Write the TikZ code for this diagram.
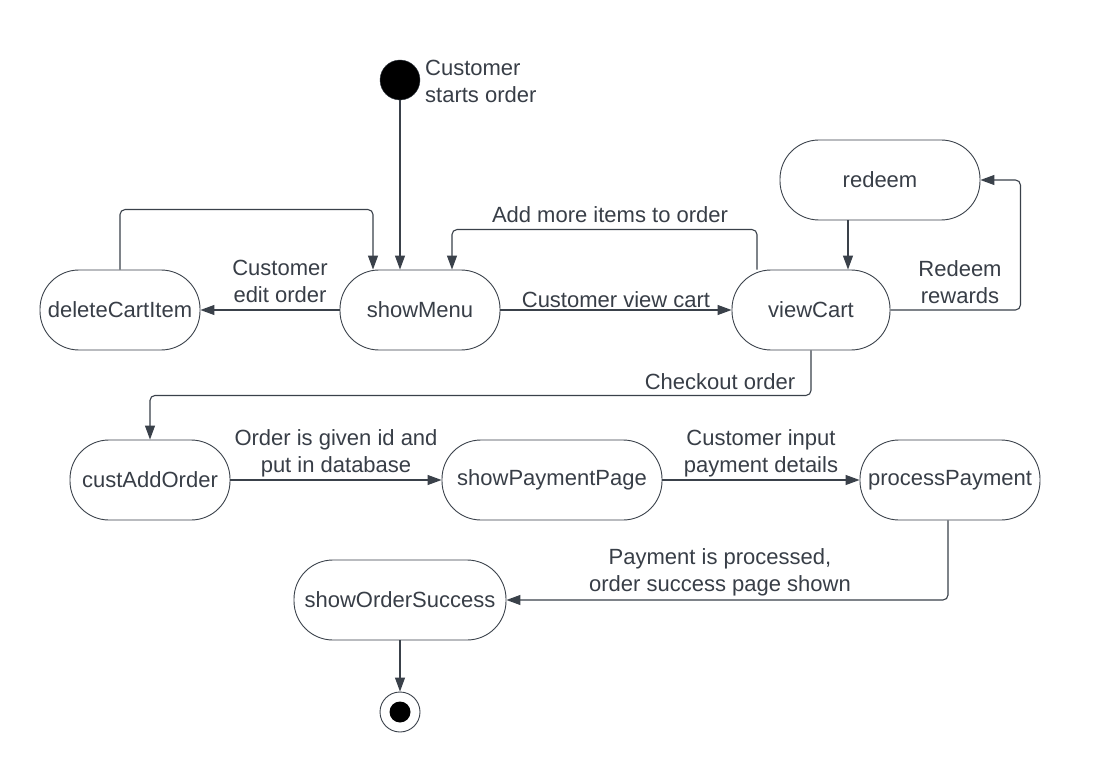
\documentclass[tikz,border=0pt]{standalone}
\usepackage{fontspec}
\setmainfont{Liberation Sans}
\usepackage{tikz}
\usetikzlibrary{arrows.meta, positioning, calc}
\definecolor{statestroke}{HTML}{3A414A}
\definecolor{statetext}{HTML}{383E47}
\tikzset{
  statebox/.style={
    draw=statestroke, line width=0.9pt, rectangle, rounded corners=39pt,
    minimum height=80pt, inner sep=2pt, text=statetext, fill=white,
    font=\fontsize{22}{27}\selectfont
  },
  flowarrow/.style={
    -{Triangle[length=14pt,width=10pt]}, line width=1.1pt,
    draw=statestroke, rounded corners=5pt
  },
  flowlabel/.style={
    font=\fontsize{22}{27}\selectfont, text=statetext, align=center, inner sep=2pt
  },
  startdot/.style={
    circle, fill=black, draw=statestroke, minimum size=40pt, inner sep=0pt
  },
  enddot/.style={
    circle, draw=statestroke, fill=white, line width=0.9pt, minimum size=40pt, inner sep=0pt
  },
}
\begin{document}
\begin{tikzpicture}[x=1pt, y=-1pt]
  \useasboundingbox[fill=white] (0,0) rectangle (1120,770);

  % ── States ──
  \node[startdot] (start) at (400,80) {};
  \node[flowlabel, anchor=west, align=left] (startlbl) at (423,81) {Customer\\starts order};
  \node[statebox, minimum width=160pt] (delcart) at (120,310) {deleteCartItem};
  \node[statebox, minimum width=160pt] (showmenu) at (420,310) {showMenu};
  \node[statebox, minimum width=158pt] (viewcart) at (811,310) {viewCart};
  \node[statebox, minimum width=200pt] (redeem) at (880,180) {redeem};
  \node[statebox, minimum width=160pt] (custadd) at (150,480) {custAddOrder};
  \node[statebox, minimum width=220pt] (showpay) at (552,480) {showPaymentPage};
  \node[statebox, minimum width=180pt] (procpay) at (950,480) {processPayment};
  \node[statebox, minimum width=212pt] (showsuccess) at (400,600) {showOrderSuccess};
  \node[enddot] (finish) at (400,712) {};
  \fill[black] (finish.center) circle (10.5pt);

  % ── Transitions ──
  \draw[flowarrow] (start) -- (start |- showmenu.north);
  \draw[flowarrow] (delcart.north) -- ++(0,-60) -| ([xshift=-47pt]showmenu.north);
  \draw[flowarrow] ([xshift=-54pt]viewcart.north) -- ++(0,-40) -| ([xshift=32pt]showmenu.north);
  \node[flowlabel] (morelbl) at (610,215) {Add more items to order};
  \draw[flowarrow] (showmenu) -- (delcart);
  \node[flowlabel] (editlbl) at (280,281) {Customer\\edit order};
  \draw[flowarrow] (showmenu) -- node[flowlabel, above] (cartlbl) {Customer view cart} (viewcart);
  \draw[flowarrow] ([xshift=-32pt]redeem.south) -- ([xshift=37pt]viewcart.north);
  \draw[flowarrow] (viewcart.east) -- ++(130,0) |- (redeem.east);
  \node[flowlabel] (rewardlbl) at (960,282) {Redeem\\rewards};
  \draw[flowarrow] (viewcart.south) -- ++(0,45) -| (custadd.north);
  \node[flowlabel] (checklbl) at (720,382) {Checkout order};
  \draw[flowarrow] (custadd) -- node[flowlabel, above] (idlbl) {Order is given id and\\put in database} (showpay);
  \draw[flowarrow] (showpay) -- node[flowlabel, above] (inputlbl) {Customer input\\payment details} (procpay);
  \draw[flowarrow] ([xshift=-2pt]procpay.south) |- (showsuccess.east);
  \node[flowlabel] (paidlbl) at (720,572) {Payment is processed,\\order success page shown};
  \draw[flowarrow] (showsuccess) -- (finish);
\end{tikzpicture}
\end{document}
